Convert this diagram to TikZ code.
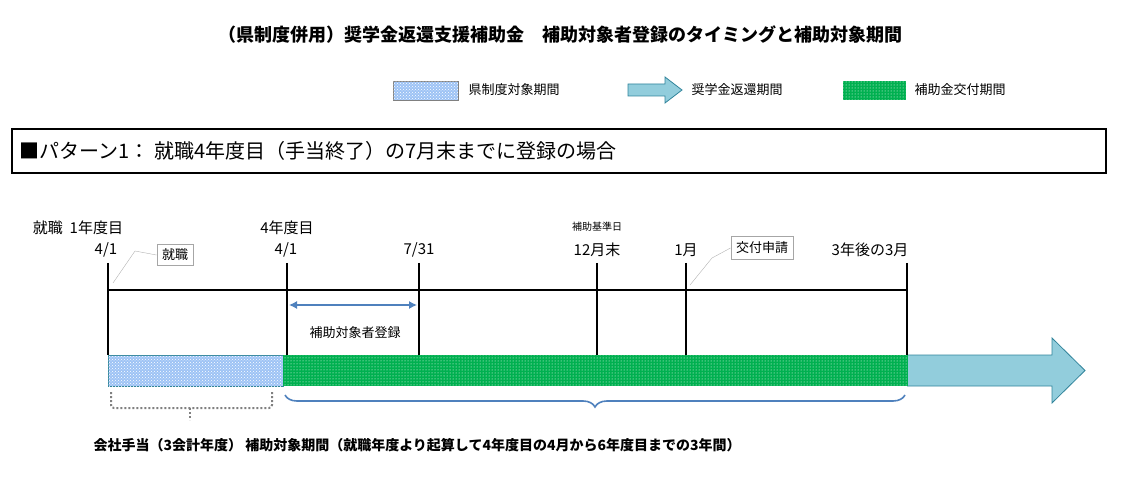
\documentclass[tikz,border=0pt]{standalone}
\usepackage{fontspec}
\setmainfont{Noto Sans CJK JP}
\usetikzlibrary{patterns,decorations.pathreplacing,calc,arrows.meta}
\definecolor{kengreen}{HTML}{00B050}
\definecolor{kenblue}{HTML}{9DC3F5}
\definecolor{arrowfill}{HTML}{92CDDC}
\definecolor{arrowline}{HTML}{31849B}
\definecolor{regblue}{HTML}{4F81BD}
\tikzset{
  tick/.style={line width=1.6pt},
  lbl/.style={font=\fontsize{15}{15}\selectfont},
  callout/.style={draw=gray!70,line width=1pt,fill=white,inner sep=5pt,font=\fontsize{13}{13}\selectfont},
  greenbar/.style={fill=kengreen,postaction={pattern=dots,pattern color=white}},
  bluebar/.style={fill=kenblue,postaction={pattern=crosshatch dots,pattern color=white}}
}
\begin{document}
\begin{tikzpicture}[x=1pt,y=-1pt]
\useasboundingbox (0,0) rectangle (1122,481);
% title and legend
\node[font=\fontsize{18}{18}\selectfont\bfseries] (title) at (560,35) {（県制度併用）奨学金返還支援補助金\quad 補助対象者登録のタイミングと補助対象期間};
\draw[bluebar,draw=gray] (393,81) rectangle (458,100);
\node[lbl,anchor=west,font=\fontsize{13}{13}\selectfont] (lg1) at (465,90) {県制度対象期間};
\draw[fill=arrowfill,draw=arrowline,line width=0.8pt] (628,84) -- (665,84) -- (665,77) -- (682,90) -- (665,103) -- (665,96) -- (628,96) -- cycle;
\node[anchor=west,font=\fontsize{13}{13}\selectfont] (lg2) at (688,90) {奨学金返還期間};
\fill[greenbar] (843,81) rectangle (906,100);
\node[anchor=west,font=\fontsize{13}{13}\selectfont] (lg3) at (911,90) {補助金交付期間};
% pattern box
\draw[line width=1.2pt] (12,129) rectangle (1106,173);
\node[anchor=west,font=\fontsize{20}{20}\selectfont] (pat) at (16,151) {■パターン1：\ 就職4年度目（手当終了）の7月末までに登録の場合};
% bars
\draw[bluebar,draw=arrowline] (108,355) rectangle (283,386);
\draw[fill=arrowfill,draw=arrowline,line width=0.8pt] (907,355) -- (1052,355) -- (1052,338) -- (1085,370.5) -- (1052,403) -- (1052,386) -- (907,386);
\fill[greenbar] (283,355) rectangle (908,386);
% time axis
\draw[tick] (108,290) -- (907,290);
\foreach \x/\nm in {108/a,287/b,419/c,597/d,686/e,907/f}{
  \coordinate (\nm top) at (\x,263);
  \draw[tick] (\x,263) -- (\x,355);
}
\node[lbl] (shu) at (78,228) {就職\ \ 1年度目};
\node[lbl] (d1) at (106,250) {4/1};
\node[lbl] (y4) at (287,228) {4年度目};
\node[lbl] (d2) at (286,250) {4/1};
\node[lbl] (d3) at (419,250) {7/31};
\node[font=\fontsize{10}{10}\selectfont] (kijun) at (597,227) {補助基準日};
\node[lbl] (d4) at (597,250) {12月末};
\node[lbl] (d5) at (686,250) {1月};
\node[lbl] (d6) at (870,250) {3年後の3月};
% callouts
\node[callout] (c1) at (175,255) {就職};
\coordinate (c1p) at (113,283);
\draw[gray!60] (c1p) -- (135,251) -- (c1.west);
\node[callout] (c2) at (762,248) {交付申請};
\coordinate (c2p) at (690,285);
\draw[gray!60] (c2p) -- (712,258) -- (c2.west);
% registration
\coordinate (r1) at (289,305);
\coordinate (r2) at (417,305);
\draw[regblue,line width=1.2pt,<->,>={Latex[length=8pt,width=8pt]}] (r1) -- (r2);
\node[font=\fontsize{13}{13}\selectfont] (reg) at (355,333) {補助対象者登録};
% braces
\draw[gray,dotted,line width=2pt,rounded corners=3pt] (111,392) -- (111,408) -- (272,408) -- (272,392);
\draw[gray,dotted,line width=2pt] (190,408) -- (190,420);
\draw[regblue,line width=1.6pt,decorate,decoration={brace,mirror,amplitude=12pt}] (285,395) -- (905,395);
\node[font=\fontsize{14}{14}\selectfont\bfseries,anchor=west] (bot) at (90,445) {会社手当（3会計年度） 補助対象期間（就職年度より起算して4年度目の4月から6年度目までの3年間）};
\end{tikzpicture}
\end{document}
